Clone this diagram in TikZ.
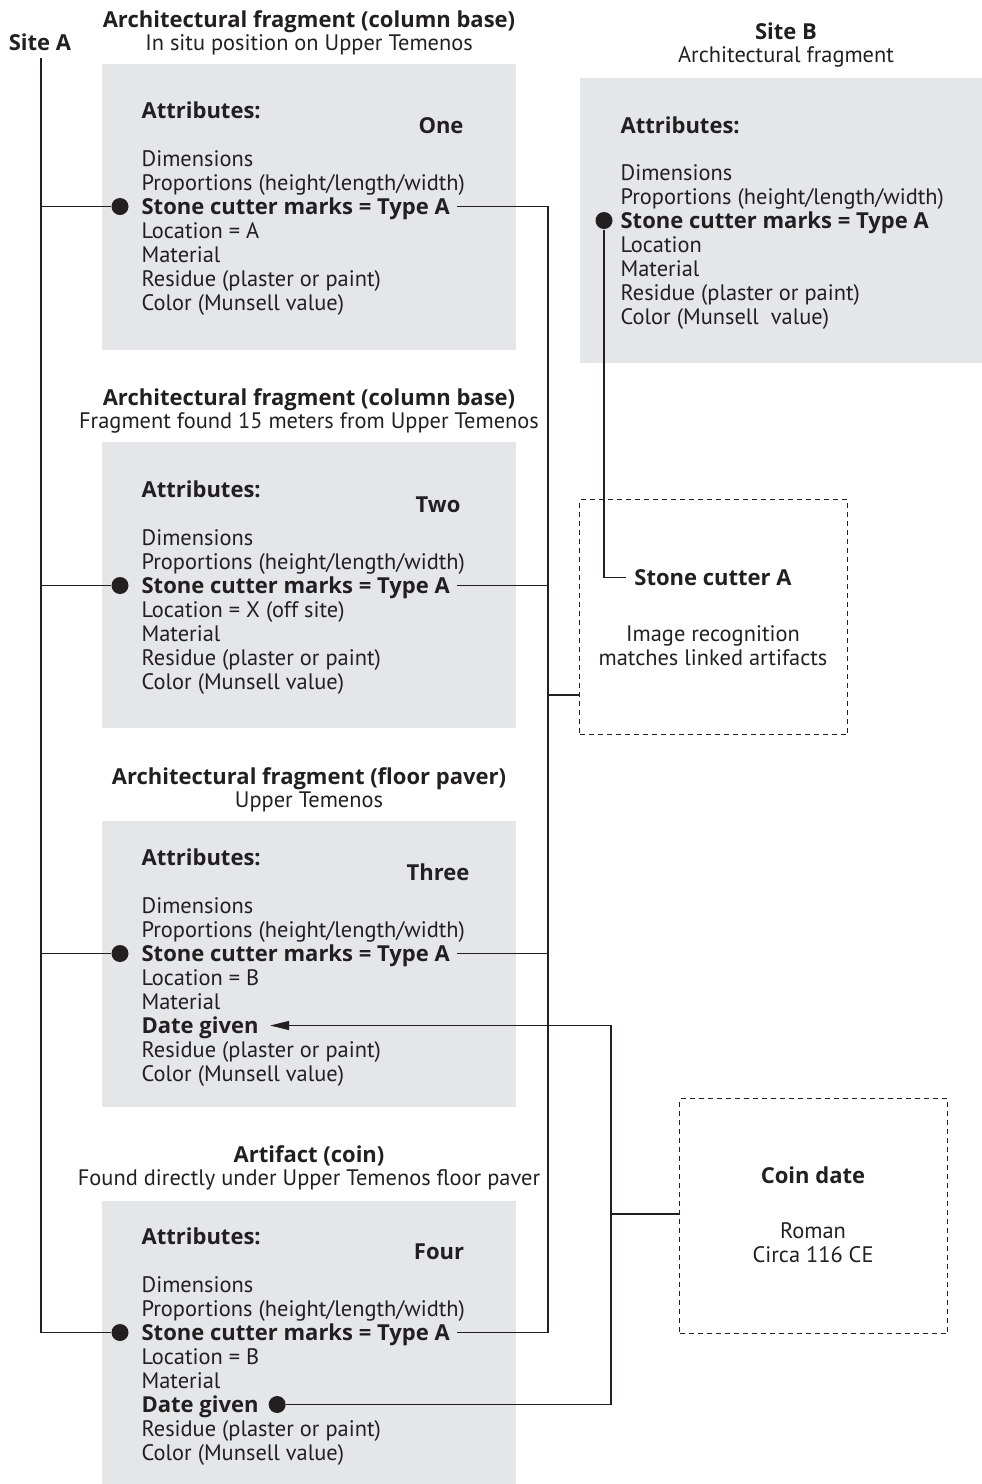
\documentclass[tikz,border=0pt]{standalone}
\usepackage{fontspec}
\setmainfont{PT Sans}
\newfontfamily\heavyfont{Open Sans}
\usetikzlibrary{arrows.meta}

\definecolor{cardgray}{RGB}{229,230,232}
\definecolor{inkgray}{RGB}{35,31,32}

\begin{document}
\begin{tikzpicture}[
                x=1pt, y=-1pt,
                color=inkgray,
                line width=1.2pt,
                every node/.style={inner sep=0pt, text height=15pt, text depth=0pt},
                txt/.style={anchor=base west, font=\fontsize{22.4}{24}\selectfont},
                bold/.style={anchor=base west, font=\heavyfont\bfseries\fontsize{22}{24}\selectfont},
                ctr/.style={anchor=base, font=\fontsize{22.4}{24}\selectfont},
                bctr/.style={anchor=base, font=\heavyfont\bfseries\fontsize{22}{24}\selectfont},
                card/.style={fill=cardgray, anchor=north west, text height=, text depth=},
                dot/.style={circle, fill=inkgray, minimum size=17pt, text height=, text depth=},
                dashbox/.style={draw, dash pattern=on 5pt off 4pt, line width=1pt, anchor=north west, text height=, text depth=}]

\useasboundingbox (0,0) rectangle (982,1484);

% site A
\node[bctr] (SITEA) at (40,50) {Site A};
\coordinate (RA) at (41,58);
\coordinate (RR) at (548,207);
\coordinate (RC) at (611,1214);
\coordinate (J1) at (548,695);

                    % 1
                    \node[card, minimum width=414pt, minimum height=286pt] (BOX1) at (101,63) {};
                    \node[bctr] (T1) at (309,27) {Architectural fragment (column base)};
                    \node[ctr] (U1) at (309,50) {In situ position on Upper Temenos};
                    \node[bold] (AT1) at (141,118) {Attributes:};
                    \node[bctr] (N1) at (441,133) {One};
                    \node[txt] (DI1) at (141,166) {Dimensions};
                    \node[txt] (PR1) at (141,190) {Proportions (height/length/width)};
                    \node[bold] (SC1) at (141,214) {Stone cutter marks = Type A};
                    \node[txt] (LO1) at (141,238) {Location = A};
                    \node[txt] (MA1) at (141,262) {Material};
                    \node[txt] (RE1) at (141,286) {Residue (plaster or paint)};
                    \node[txt] (CO1) at (141,310) {Color (Munsell value)};
                    \node[dot] (D1) at ([xshift=-21pt]SC1.west) {};

                    % 2
                    \node[card, minimum width=414pt, minimum height=286pt] (BOX2) at (101,441) {};
                    \node[bctr] (T2) at (309,405) {Architectural fragment (column base)};
                    \node[ctr] (U2) at (309,428) {Fragment found 15 meters from Upper Temenos};
                    \node[bold] (AT2) at (141,497) {Attributes:};
                    \node[bctr] (N2) at (438,512) {Two};
                    \node[txt] (DI2) at (141,545) {Dimensions};
                    \node[txt] (PR2) at (141,569) {Proportions (height/length/width)};
                    \node[bold] (SC2) at (141,593) {Stone cutter marks = Type A};
                    \node[txt] (LO2) at (141,617) {Location = X (off site)};
                    \node[txt] (MA2) at (141,641) {Material};
                    \node[txt] (RE2) at (141,665) {Residue (plaster or paint)};
                    \node[txt] (CO2) at (141,689) {Color (Munsell value)};
                    \node[dot] (D2) at ([xshift=-21pt]SC2.west) {};

                    % 3
                    \node[card, minimum width=414pt, minimum height=286pt] (BOX3) at (101,820) {};
                    \node[bctr] (T3) at (309,784) {Architectural fragment (floor paver)};
                    \node[ctr] (U3) at (309,807) {Upper Temenos};
                    \node[bold] (AT3) at (141,865) {Attributes:};
                    \node[bctr] (N3) at (438,880) {Three};
                    \node[txt] (DI3) at (141,913) {Dimensions};
                    \node[txt] (PR3) at (141,937) {Proportions (height/length/width)};
                    \node[bold] (SC3) at (141,961) {Stone cutter marks = Type A};
                    \node[txt] (LO3) at (141,985) {Location = B};
                    \node[txt] (MA3) at (141,1009) {Material};
                    \node[bold] (DG3) at (141,1033) {Date given};
                    \node[txt] (RE3) at (141,1057) {Residue (plaster or paint)};
                    \node[txt] (CO3) at (141,1081) {Color (Munsell value)};
                    \node[dot] (D3) at ([xshift=-21pt]SC3.west) {};

                    % 4
                    \node[card, minimum width=414pt, minimum height=284pt] (BOX4) at (101,1200) {};
                    \node[bctr] (T4) at (309,1162) {Artifact (coin)};
                    \node[ctr] (U4) at (309,1185) {Found directly under Upper Temenos floor paver};
                    \node[bold] (AT4) at (141,1244) {Attributes:};
                    \node[bctr] (N4) at (439,1259) {Four};
                    \node[txt] (DI4) at (141,1292) {Dimensions};
                    \node[txt] (PR4) at (141,1316) {Proportions (height/length/width)};
                    \node[bold] (SC4) at (141,1340) {Stone cutter marks = Type A};
                    \node[txt] (LO4) at (141,1364) {Location = B};
                    \node[txt] (MA4) at (141,1388) {Material};
                    \node[bold] (DG4) at (141,1412) {Date given};
                    \node[txt] (RE4) at (141,1436) {Residue (plaster or paint)};
                    \node[txt] (CO4) at (141,1460) {Color (Munsell value)};
                    \node[dot] (D4) at ([xshift=-21pt]SC4.west) {};
                    \node[dot] (DD4) at ([xshift=18pt]DG4.east) {};

                    % site B
                    \node[card, minimum width=403pt, minimum height=285pt] (BOXB) at (579,77) {};
                    \node[bctr] (TB) at (786,39) {Site B};
                    \node[ctr] (UB) at (786,62) {Architectural fragment};
                    \node[bold] (ATB) at (620,133) {Attributes:};
                    \node[txt] (DIB) at (620,180) {Dimensions};
                    \node[txt] (PRB) at (620,204) {Proportions (height/length/width)};
                    \node[bold] (SCB) at (620,228) {Stone cutter marks = Type A};
                    \node[txt] (LOB) at (620,252) {Location};
                    \node[txt] (MAB) at (620,276) {Material};
                    \node[txt] (REB) at (620,300) {Residue (plaster or paint)};
                    \node[txt] (COB) at (620,324) {Color (Munsell\ \ value)};
                    \node[dot] (DB) at ([xshift=-16pt]SCB.west) {};

                    % stone cutter
                    \node[dashbox, minimum width=268pt, minimum height=235pt] (SCBOX) at (579,499) {};
                    \node[bctr] (SCA) at (713,585) {Stone cutter A};
                    \node[ctr] (IR1) at (713,641) {Image recognition};
                    \node[ctr] (IR2) at (713,665) {matches linked artifacts};

                    % coin date
                    \node[dashbox, minimum width=268pt, minimum height=235pt] (COIN) at (679,1098) {};
                    \node[bctr] (CD) at (813,1183) {Coin date};
                    \node[ctr] (CD1) at (813,1238) {Roman};
                    \node[ctr] (CD2) at (813,1262) {Circa 116 CE};


                    % links
                    \draw (RA) -- (RA |- D4);
                    \draw (D1) -- (D1 -| RA);
                    \draw (D2) -- (D2 -| RA);
                    \draw (D3) -- (D3 -| RA);
                    \draw (D4) -- (D4 -| RA);

                    \draw ([xshift=7pt]SC1.east |- D1) -- (D1 -| RR) -- (D4 -| RR) -- ([xshift=7pt]SC4.east |- D4);
                    \draw ([xshift=7pt]SC2.east |- D2) -- (D2 -| RR);
                    \draw ([xshift=7pt]SC3.east |- D3) -- (D3 -| RR);
                    \draw (J1) -- (J1 -| SCBOX.west);

                    \draw (DB) -- (DB |- SCA.west) -- ([xshift=-8pt]SCA.west);

                    \draw (RC) -- (RC -| COIN.west);
                    \draw[-{Triangle[length=19pt,width=9pt]}] (DD4) -- (DD4 -| RC) -- (DG3 -| RC) -- ([xshift=11pt]DG3.east);

\end{tikzpicture}
\end{document}
